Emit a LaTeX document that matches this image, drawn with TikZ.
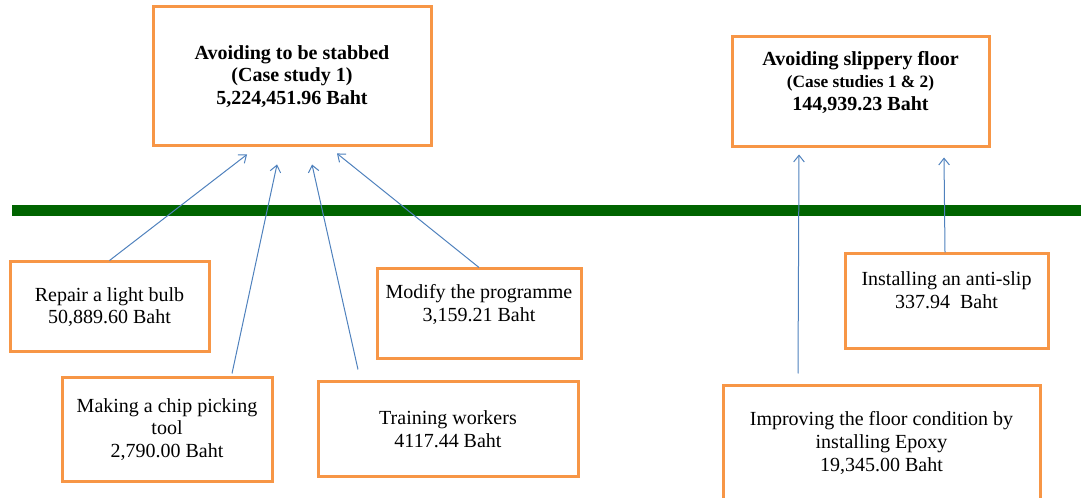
\documentclass[tikz,border=0pt]{standalone}
\usepackage{fontspec}
\setmainfont{Liberation Serif}
\usetikzlibrary{positioning,calc,arrows.meta}
\definecolor{boxorange}{RGB}{247,150,70}
\definecolor{linkblue}{RGB}{79,129,189}
\definecolor{bargreen}{RGB}{0,100,0}

\begin{document}
\begin{tikzpicture}[
    x=0.75pt, y=-0.75pt,
    box/.style={
        rectangle,
        draw=boxorange,
        line width=2.25pt,
        fill=white,
        align=center,
        inner sep=2pt,
        font=\fontsize{15}{17}\selectfont
    },
    goal/.style={
        box,
        font=\fontsize{15}{17}\selectfont\bfseries
    },
    link/.style={
        draw=linkblue,
        line width=0.75pt,
        -{Straight Barb[length=5pt,width=8pt]}
    },
    bar/.style={draw=bargreen, line width=8.25pt}
]
    \useasboundingbox (0,0) rectangle (1081,498);

    % Dividing bar
    \coordinate (barL) at (12,211);
    \coordinate (barR) at (1081,211);
    \draw[bar] (barL) -- (barR);

    % Goals
    \node[goal, minimum width=208.5pt, minimum height=104.25pt] (stab) at (292,76.5)
        {Avoiding to be stabbed\\(Case study 1)\\5,224,451.96 Baht};
    \node[goal, minimum width=192.75pt, minimum height=82.5pt] (slip) at (860.5,92)
        {Avoiding slippery floor\\{\fontsize{13}{17}\selectfont(Case studies 1 \& 2)}\\144,939.23 Baht\\~};

    % Measures
    \node[box, minimum width=149.25pt, minimum height=67.5pt] (bulb) at (109.5,307)
        {Repair a light bulb\\50,889.60 Baht};
    \node[box, minimum width=153pt, minimum height=67.5pt] (prog) at (479,314)
        {Modify the programme\\3,159.21 Baht\\~};
    \node[box, minimum width=157.5pt, minimum height=77.25pt] (chip) at (167,429.5)
        {Making a chip picking\\tool\\2,790.00 Baht};
    \node[box, minimum width=195pt, minimum height=70.5pt] (train) at (448,429)
        {Training workers\\4117.44 Baht};
    \node[box, minimum width=152.25pt, minimum height=71.25pt] (antislip) at (946.5,301.5)
        {Installing an anti-slip\\337.94~ Baht\\~};
    \node[box, minimum width=237.75pt, minimum height=85.5pt] (epoxy) at (881.5,443)
        {Improving the floor condition by\\installing Epoxy\\19,345.00 Baht};

    % Links
    \draw[link] (bulb.north) -- ($(stab.south)+(-45,7)$);
    \draw[link] ($(chip.north)+(65,-3)$) -- ($(stab.south)+(-15,17)$);
    \draw[link] ($(train.north)+(-90,-11)$) -- ($(stab.south)+(20,17)$);
    \draw[link] (prog.north) -- ($(stab.south)+(45,6)$);
    \draw[link] ($(epoxy.north)+(-83.5,-11)$) -- ($(slip.south)+(-61.5,6)$);
    \draw[link] ($(antislip.north)+(-1.5,0)$) -- ($(slip.south)+(83.5,9)$);
\end{tikzpicture}
\end{document}
